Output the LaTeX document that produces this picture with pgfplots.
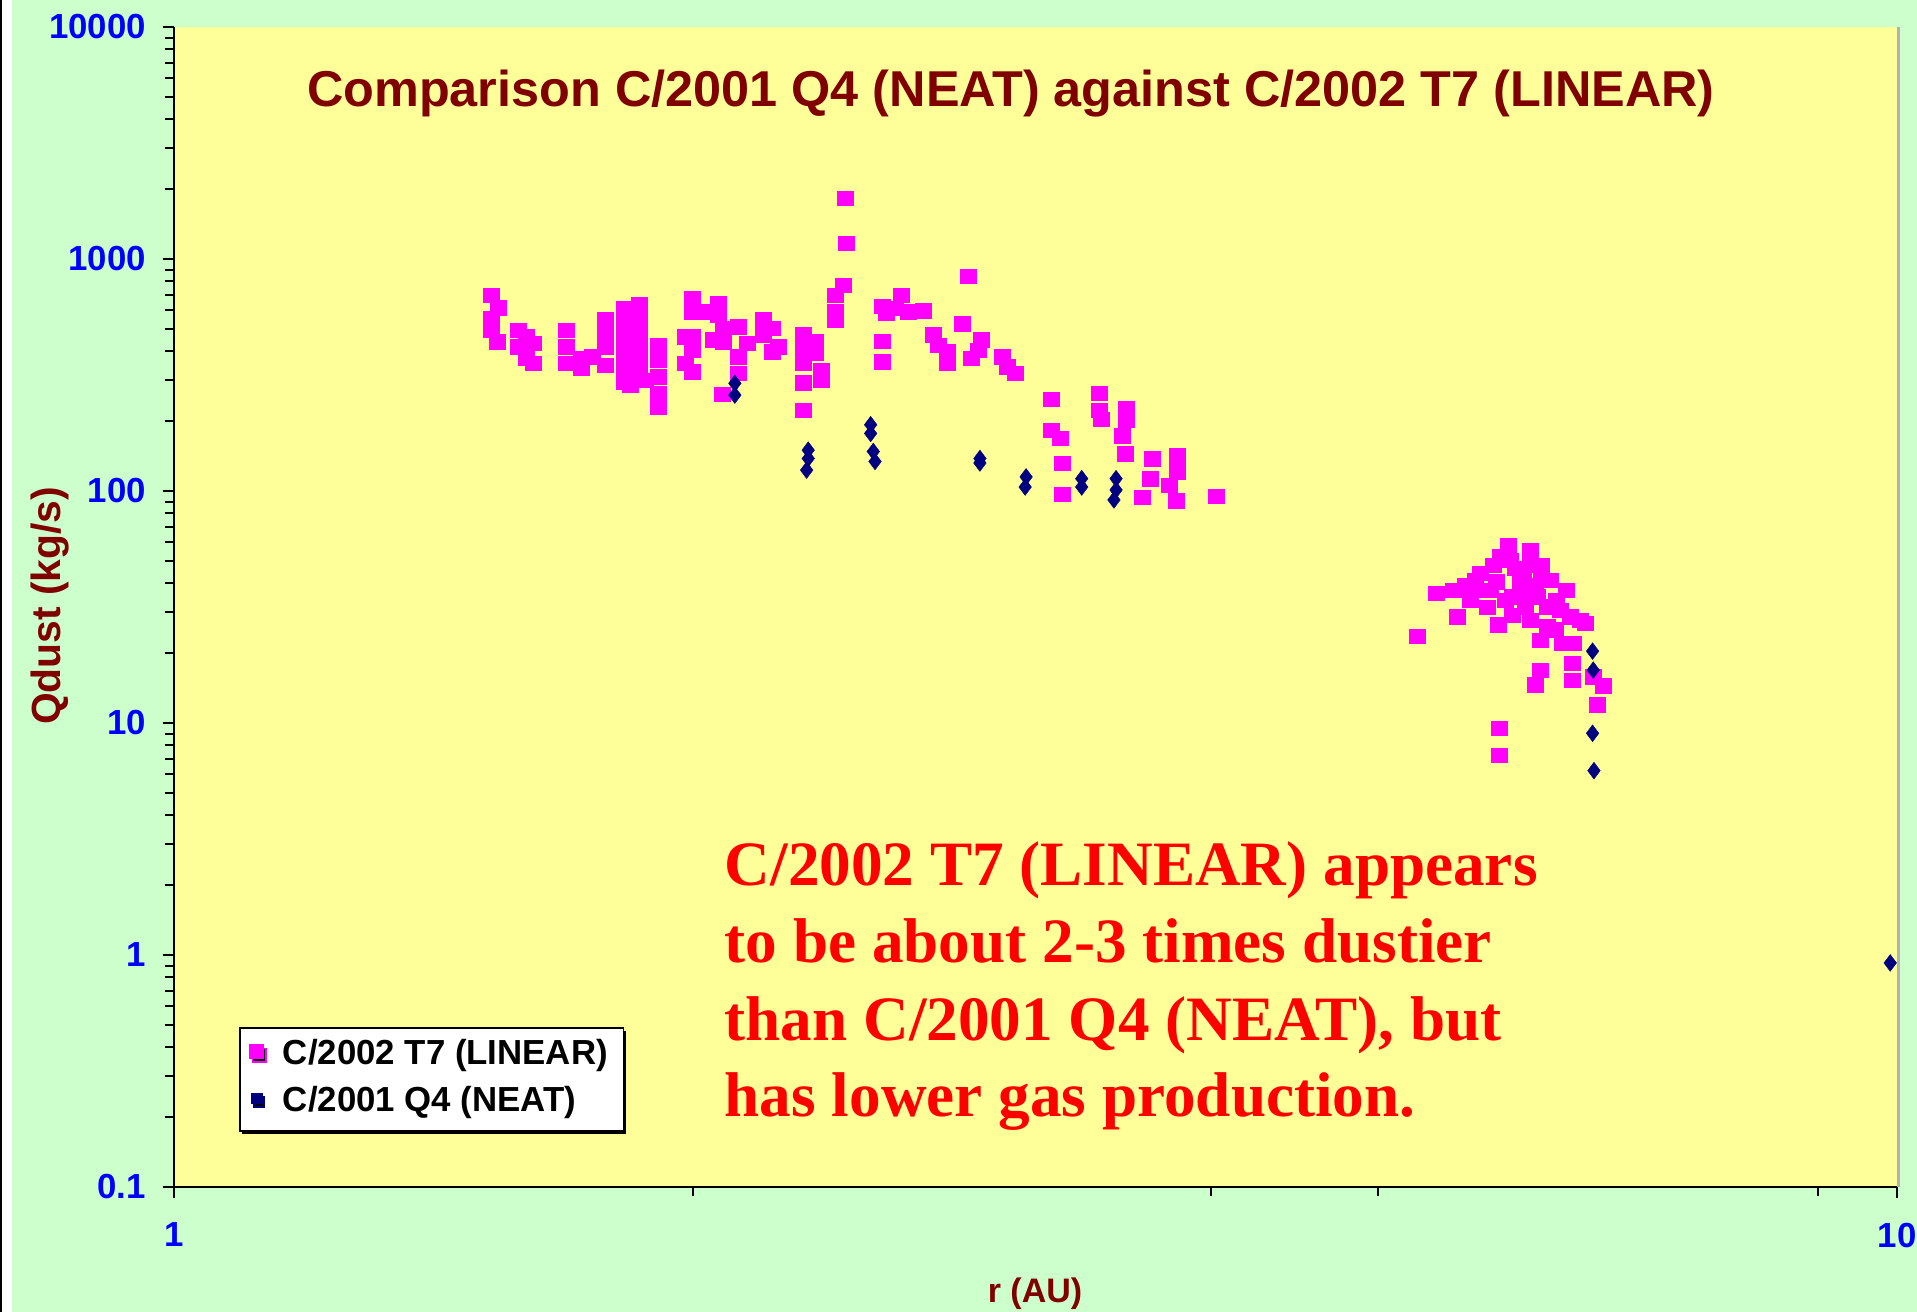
\documentclass[border=0pt]{standalone}
\usepackage{fontspec}
\setmainfont{Liberation Serif}
\setsansfont{Liberation Sans}
\usepackage{pgfplots}
\pgfplotsset{compat=1.18}
\usetikzlibrary{shadows}
\definecolor{bggreen}{HTML}{CCFFCC}
\definecolor{plotyellow}{HTML}{FFFF99}
\definecolor{magc}{HTML}{FF00FF}
\definecolor{navyc}{HTML}{000080}
\definecolor{darkredc}{HTML}{800000}
\definecolor{bluec}{HTML}{0000FF}
\definecolor{redc}{HTML}{FF0000}
\begin{document}
\begin{tikzpicture}[x=1pt,y=1pt]
\useasboundingbox (0,0) rectangle (479.25,328);
\fill[bggreen] (0,0) rectangle (479.25,328);
\fill[white] (0,0) rectangle (3,328);
\fill[black] (0,0) rectangle (0.6,328);
\begin{axis}[
  at={(43.5pt,31.25pt)}, anchor=south west,
  scale only axis, width=430.75pt, height=290pt,
  xmode=log, ymode=log,
  xmin=1, xmax=10, ymin=0.1, ymax=10000,
  axis x line*=bottom, axis y line*=left,
  axis background/.style={fill=plotyellow},
  axis line style={black, line width=0.6pt},
  tick align=outside,
  major tick length=2.8pt, minor tick length=2.3pt,
  tick style={black, line width=0.5pt},
  xtick={1,10}, xticklabels={\textbf{1},\textbf{10}},
  minor xtick={2,4,5,9},
  ytick={0.1,1,10,100,1000,10000},
  yticklabels={\textbf{0.1},\textbf{1},\textbf{10},\textbf{100},\textbf{1000},\textbf{10000}},
  minor ytick={0.2,0.3,0.4,0.5,0.6,0.7,0.8,0.9,2,3,4,5,6,7,8,9,20,30,40,50,60,70,80,90,200,300,400,500,600,700,800,900,2000,3000,4000,5000,6000,7000,8000,9000},
  ticklabel style={font=\fontsize{8.7}{10}\selectfont\sffamily\bfseries, text=bluec},
  yticklabel style={inner sep=0pt, anchor=east, xshift=-4pt},
  xticklabel style={inner sep=0pt, anchor=north, yshift=-6pt},
  legend style={at={(rel axis cs:0.03772,0.13793)}, anchor=north west,
    draw=black, line width=0.4pt, fill=white,
    font=\fontsize{8.7}{10}\selectfont\sffamily\bfseries,
    inner xsep=2.4pt, inner ysep=1.45pt, row sep=0.65pt, column sep=3.2pt,
    nodes={inner sep=1.5pt, text height=6.3pt, text depth=1.8pt},
    drop shadow={shadow xshift=0.6pt, shadow yshift=-0.9pt, fill=black, opacity=1}},
  legend cell align=left,
]
\addplot[only marks, mark=square*, mark size=2pt, color=magc,
  mark options={fill=magc, draw=magc, line width=0.1pt, yscale=0.9},
  legend image code/.code={\fill[magc] (0pt,-0.6pt) rectangle (3.3pt,2.7pt);}]
coordinates {
(1.527,700) (1.542,617) (1.527,555) (1.527,494) (1.540,440)
(1.584,494) (1.584,419) (1.601,463) (1.601,373) (1.616,433) (1.616,355)
(1.689,494) (1.689,419) (1.689,355) (1.723,373) (1.723,338) (1.748,379)
(1.779,550) (1.779,479) (1.779,419) (1.779,349)
(1.825,613) (1.825,528) (1.825,455) (1.825,392) (1.825,338) (1.825,296) (1.839,286)
(1.863,634) (1.863,555) (1.863,479) (1.863,412) (1.863,355) (1.863,306) (1.877,301)
(1.910,426) (1.910,367) (1.910,311) (1.910,264) (1.910,231)
(1.998,677) (1.998,593) (2.029,593) (2.070,644) (2.070,574)
(1.980,463) (1.998,463) (1.998,405) (1.980,355) (1.998,327)
(2.056,448) (2.084,503) (2.084,440) (2.126,511) (2.150,433) (2.126,379) (2.126,322) (2.081,261)
(2.198,550) (2.198,471) (2.223,503) (2.223,399) (2.242,419)
(2.319,471) (2.319,412) (2.355,440) (2.355,392) (2.319,355) (2.319,293) (2.319,223) (2.376,332) (2.376,301)
(2.446,772) (2.419,700) (2.419,593) (2.419,546) (2.451,1826) (2.457,1169)
(2.578,443) (2.578,361) (2.644,700) (2.578,627) (2.621,613) (2.668,593) (2.720,599) (2.592,584)
(2.889,845) (2.869,525) (2.759,471) (2.778,426) (2.809,399) (2.809,355)
(2.943,448) (2.929,405) (2.900,373) (3.026,379) (3.043,343) (3.077,322)
(3.228,249) (3.228,183) (3.268,169) (3.276,132) (3.276,97.1)
(3.443,264) (3.443,223) (3.452,204) (3.572,227) (3.572,202) (3.553,173) (3.564,145)
(3.694,138) (3.685,113) (3.645,93.9) (3.822,142) (3.822,121) (3.781,106) (3.815,90.8) (4.025,95.2)
(5.268,23.7) (5.402,36.2) (5.528,37.4) (5.615,39.3) (5.553,28.7) (5.780,31.5) (5.870,26.5)
(5.728,44.2) (5.852,40.7) (5.949,58.5) (5.884,52.1) (6.124,55.7) (6.220,48.0) (6.220,42.0)
(5.977,35.0) (6.083,31.7) (6.179,35.0) (6.069,44.2) (6.262,31.7) (6.262,26.0)
(6.431,37.4) (6.460,28.7) (6.590,26.9) (6.389,22.1) (6.488,22.1) (6.475,18.1) (6.475,15.3)
(6.206,16.9) (6.165,14.6) (6.664,15.8) (6.753,14.5) (6.699,12.0) (5.873,9.49) (5.873,7.28)
(6.042,37.4) (6.341,33.9) (6.332,25.2) (5.653,33.9)
(5.963,50.4) (6.042,41.3) (6.165,39.3) (6.290,41.3) (5.923,33.9) (5.806,37.4)
(6.124,27.8) (6.374,30.7) (6.546,27.8) (5.691,41.3)
(5.829,48.0) (6.001,46.6) (6.124,48.0) (5.977,29.2) (6.206,22.8) (6.042,35.6) (5.728,37.4)
};
\addlegendentry{C/2002 T7 (LINEAR)}
\addplot[only marks, mark=diamond*, mark size=2.1pt, color=navyc,
  mark options={fill=navyc, draw=navyc, line width=0.1pt},
  legend image code/.code={\fill[navyc] (0.4pt,-0.2pt) rectangle (2.9pt,2.3pt);}]
coordinates {
(2.116,291) (2.116,259) (2.334,150) (2.334,138) (2.329,123)
(2.537,193) (2.537,177) (2.546,148) (2.552,134)
(2.936,138) (2.936,132) (3.123,115) (3.119,104)
(3.364,113) (3.364,104) (3.522,113) (3.522,101) (3.512,91.5)
(6.658,20.4) (6.664,16.9) (6.658,9.03) (6.670,6.23) (9.91,0.924)
};
\addlegendentry{C/2001 Q4 (NEAT)}
\end{axis}
\draw[gray!60, line width=0.75pt] (474.6,31.25) -- (474.6,321.25);
\node[anchor=base, inner sep=0pt, font=\fontsize{12.6}{14}\selectfont\sffamily\bfseries, text=darkredc] at (252.75,301.25) {Comparison C/2001 Q4 (NEAT) against C/2002 T7 (LINEAR)};
\node[rotate=90, anchor=base, inner sep=0pt, font=\fontsize{10.2}{11}\selectfont\sffamily\bfseries, text=darkredc] at (15,176.5) {Qdust (kg/s)};
\node[anchor=base, inner sep=0pt, font=\fontsize{8.5}{10}\selectfont\sffamily\bfseries, text=darkredc] at (258.75,2.25) {r (AU)};
\begin{scope}[every node/.style={anchor=base west, inner sep=0pt, text=redc, font=\fontsize{15.8}{19}\selectfont\bfseries}]
\node at (181,106.5) {C/2002 T7 (LINEAR) appears};
\node at (181,87.25) {to be about 2-3 times dustier};
\node at (181,67.75) {than C/2001 Q4 (NEAT), but};
\node at (181,48.75) {has lower gas production.};
\end{scope}
\end{tikzpicture}
\end{document}
